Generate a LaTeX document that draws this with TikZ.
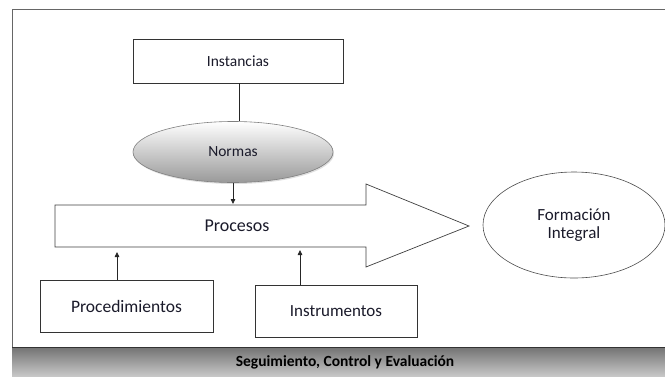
\documentclass[tikz,border=0pt]{standalone}
\usepackage{fontspec}
\setmainfont{Carlito}
\usetikzlibrary{shapes.geometric,arrows.meta,shadows}
\definecolor{txt}{HTML}{1A1A2A}
\tikzset{
  box/.style={draw=black!80, line width=0.6pt, fill=white, inner sep=0pt, text=txt},
  conn/.style={draw=black!85, line width=0.8pt},
  arr/.style={conn, -{Triangle[length=5pt,width=4.5pt]}},
}
\begin{document}
\begin{tikzpicture}[x=1pt,y=-1pt]
\useasboundingbox (0,0) rectangle (665,376);
% frame
\draw[black!60, line width=0.8pt] (12,376) -- (12,9) -- (670,9);
% band
\shade[top color=black!55, bottom color=black!22] (12,347) rectangle (670,376);
\draw[black!80, line width=0.9pt] (12,347) -- (670,347);
\node[font=\bfseries\fontsize{15.5}{18}\selectfont, text=black] (band) at (345,362) {Seguimiento, Control y Evaluación};
% Instancias
\node[box, minimum width=210pt, minimum height=44pt, font=\fontsize{15.5}{18}\selectfont] (inst) at (238,61) {Instancias};
% Normas
\node[ellipse, draw=black!50, line width=0.6pt, top color=white, bottom color=black!40, minimum width=200pt, minimum height=61pt, inner sep=0pt, font=\fontsize{15.5}{18}\selectfont, text=txt, drop shadow={shadow xshift=1pt, shadow yshift=-1.5pt, opacity=0.25}] (norm) at (233,152) {Normas};
\draw[conn] (inst.south -| 239,0) -- (239,121);
% big arrow
\draw[black!75, line width=0.7pt, fill=white] (55,205) -- (366,205) -- (366,184) -- (469,226) -- (366,267) -- (366,247) -- (55,247) -- cycle;
\node[font=\fontsize{18}{21}\selectfont, text=txt] (proc) at (237,226) {Procesos};
\coordinate (ptop) at (233,204);
\draw[arr] (norm.south -| ptop) -- (ptop);
% Formacion integral
\node[ellipse, draw=black!70, line width=0.6pt, minimum width=182pt, minimum height=106pt, inner sep=0pt, align=center, font=\fontsize{17}{18}\selectfont, text=txt] (form) at (574,225) {Formación\\Integral};
% bottom boxes
\node[box, minimum width=173pt, minimum height=52pt, font=\fontsize{17.5}{20}\selectfont] (pdm) at (126.5,306) {Procedimientos};
\node[box, minimum width=162pt, minimum height=52pt, font=\fontsize{17}{20}\selectfont] (ins) at (336,311) {Instrumentos};
\coordinate (a1) at (117,252);
\coordinate (a2) at (300,250);
\draw[arr] (pdm.north -| a1) -- (a1);
\draw[arr] (ins.north -| a2) -- (a2);
\end{tikzpicture}
\end{document}
